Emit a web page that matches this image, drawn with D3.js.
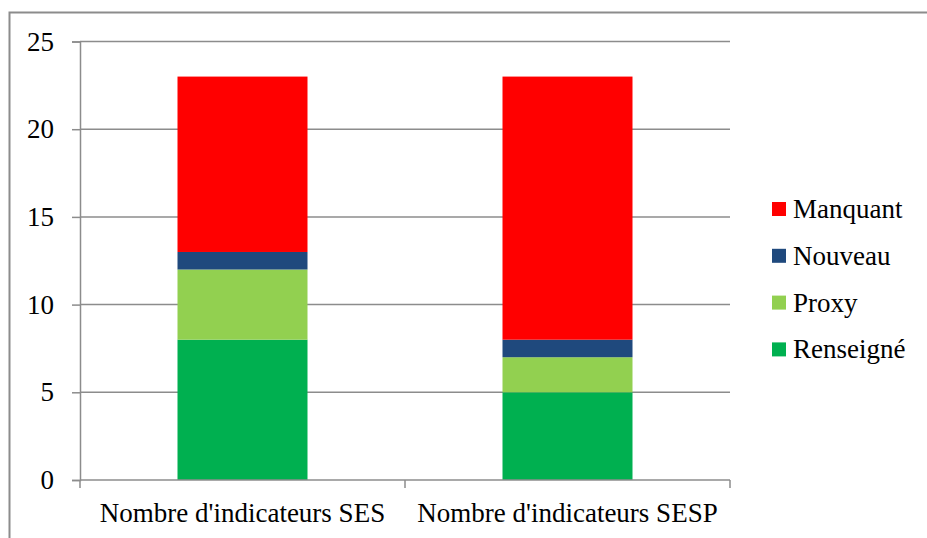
<!DOCTYPE html>
<html>
<head>
<meta charset="utf-8">
<script src="https://cdn.jsdelivr.net/npm/d3@7"></script>
<style>
  body { margin: 0; background: #fff; }
  svg text { font-family: "Liberation Serif", "Times New Roman", "DejaVu Serif", serif !important; fill: #000; }
</style>
</head>
<body>
<div id="chart"></div>
<script>
// Data
var categories = ["Nombre d'indicateurs SES", "Nombre d'indicateurs SESP"];
var seriesNames = ["Renseigné", "Proxy", "Nouveau", "Manquant"];
var renseigne = [8, 5];
var proxy = [4, 2];
var nouveau = [1, 1];
var manquant = [10, 15];
var yTicks = [0, 5, 10, 15, 20, 25];
var colors = ["#00B050", "#92D050", "#1F497D", "#FF0000"];

var svgWidth = 927;
var svgHeight = 538;

var margin = { top: 41.5, left: 80, right: 197, bottom: 58 };
var width = svgWidth - margin.left - margin.right;
var height = svgHeight - margin.top - margin.bottom;

var svg = d3.select("#chart")
  .append("svg")
  .attr("width", svgWidth)
  .attr("height", svgHeight);

// outer frame
svg.append("rect")
  .attr("x", 9.5).attr("y", 12.5)
  .attr("width", 1000).attr("height", 1000)
  .attr("fill", "none").attr("stroke", "#8c8c8c").attr("stroke-width", 2);

var chartGroup = svg.append("g")
  .attr("transform", `translate(${margin.left}, ${margin.top})`);

// build table for stack
var table = categories.map((c, i) => ({
  cat: c,
  "Renseigné": renseigne[i],
  "Proxy": proxy[i],
  "Nouveau": nouveau[i],
  "Manquant": manquant[i]
}));
var stacked = d3.stack().keys(seriesNames)(table);

var xScale = d3.scaleBand()
  .domain(categories)
  .range([0, width])
  .paddingInner(0.6)
  .paddingOuter(0.3);

var yScale = d3.scaleLinear()
  .domain([0, 25])
  .range([height, 0]);

// gridlines
chartGroup.selectAll(".grid")
  .data(yTicks.filter(d => d > 0))
  .enter()
  .append("line")
  .attr("x1", 0).attr("x2", width)
  .attr("y1", d => yScale(d)).attr("y2", d => yScale(d))
  .attr("stroke", "#8c8c8c").attr("stroke-width", 1.5);

// bars
chartGroup.selectAll(".series")
  .data(stacked)
  .enter()
  .append("g")
  .attr("fill", (d, i) => colors[i])
  .selectAll("rect")
  .data(d => d)
  .enter()
  .append("rect")
  .attr("x", d => xScale(d.data.cat))
  .attr("width", xScale.bandwidth())
  .attr("y", d => yScale(d[1]))
  .attr("height", d => yScale(d[0]) - yScale(d[1]));

// y axis
var leftAxis = d3.axisLeft(yScale).tickValues(yTicks).tickSize(8).tickPadding(18);
var yAxis = chartGroup.append("g").call(leftAxis)
  .attr("font-family", null).attr("font-size", null);
yAxis.select(".domain").attr("stroke", "#8c8c8c").attr("stroke-width", 1.5);
yAxis.selectAll(".tick line").attr("stroke", "#8c8c8c").attr("stroke-width", 1.5);
yAxis.selectAll(".tick text").style("font-size", "27px");

// x axis
var xAxisG = chartGroup.append("g")
  .attr("transform", `translate(0, ${height})`);
xAxisG.append("line")
  .attr("x1", 0).attr("x2", width)
  .attr("stroke", "#8c8c8c").attr("stroke-width", 1.5);
var boundaries = [0].concat(categories.map(c => xScale(c) + xScale.bandwidth() + xScale.step() * xScale.paddingInner() / 2));
boundaries[boundaries.length - 1] = width;
xAxisG.selectAll(".xtick")
  .data(boundaries)
  .enter()
  .append("line")
  .attr("x1", d => d).attr("x2", d => d)
  .attr("y1", 0).attr("y2", 8)
  .attr("stroke", "#8c8c8c").attr("stroke-width", 1.5);
xAxisG.selectAll(".xlabel")
  .data(categories)
  .enter()
  .append("text")
  .attr("x", d => xScale(d) + xScale.bandwidth() / 2)
  .attr("y", 42)
  .attr("text-anchor", "middle")
  .style("font-size", "27px")
  .text(d => d);

// legend (top item is last series)
var legendItems = seriesNames.slice().reverse();
var legend = svg.append("g").attr("transform", "translate(772, 209)");
var items = legend.selectAll(".item")
  .data(legendItems)
  .enter()
  .append("g")
  .attr("transform", (d, i) => `translate(0, ${i * 46.8})`);
items.append("rect")
  .attr("x", 0).attr("y", -7)
  .attr("width", 14).attr("height", 14)
  .attr("fill", d => colors[seriesNames.indexOf(d)]);
items.append("text")
  .attr("x", 21).attr("y", 9)
  .style("font-size", "27px")
  .text(d => d);
</script>
</body>
</html>
